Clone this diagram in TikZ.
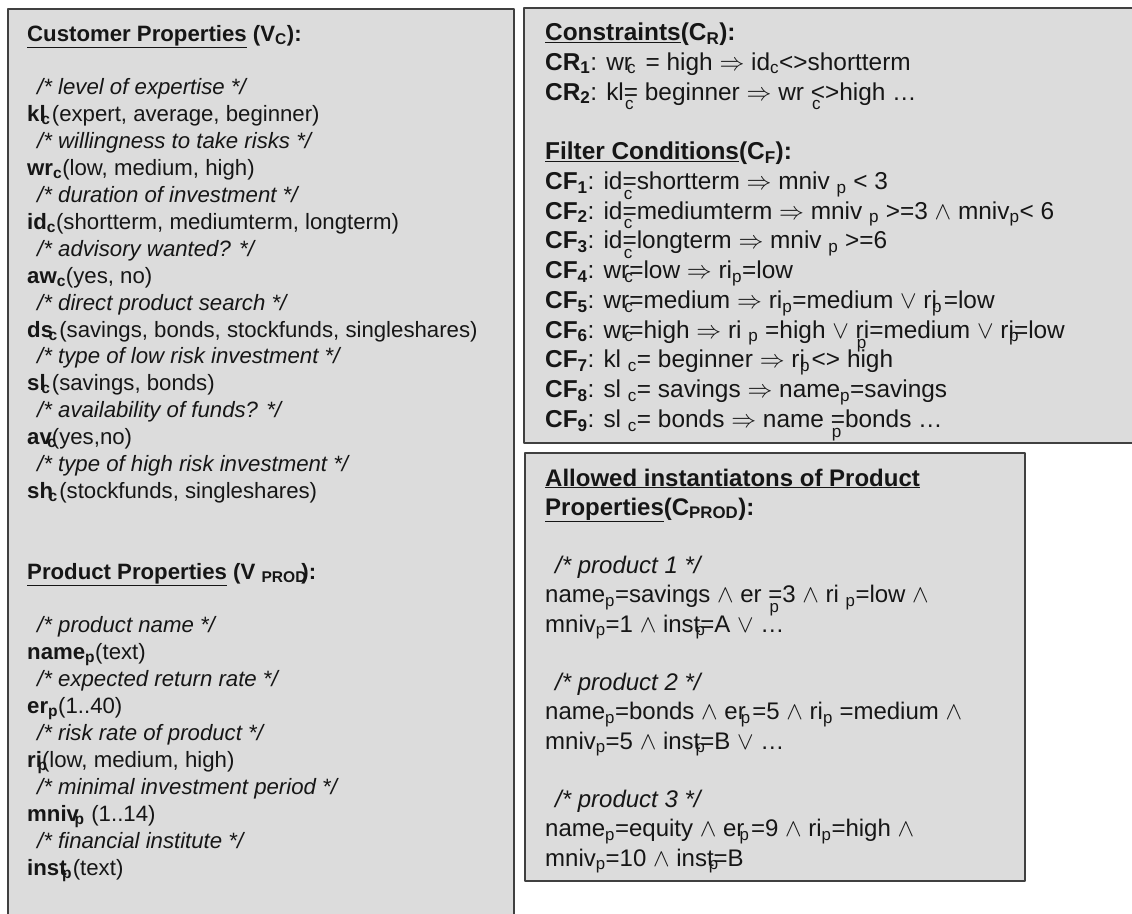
\documentclass[tikz,border=0pt]{standalone}
\usepackage{fontspec}
\setmainfont{Liberation Sans}
\usepackage{tikz}
\definecolor{panelfill}{RGB}{220,220,220}
\definecolor{panelline}{RGB}{64,64,64}
\definecolor{ink}{RGB}{22,22,22}
\tikzset{
  every picture/.style={line join=round, line cap=round},
  panel/.style={draw=panelline, fill=panelfill, line width=2pt},
  listing/.style={anchor=base west, align=left, inner sep=0pt, text=ink},
}
\newcommand{\cmt}[1]{\hspace*{10pt}\textit{/* #1 */}}
\newcommand{\subl}[1]{\makebox[0pt][l]{\kern-0.2em\textsubscript{#1}}}
\newcommand{\subo}[2]{\makebox[0pt][l]{\kern0.05em\raisebox{-0.25em}{\textsubscript{#1}}}#2}
\newcommand{\impl}{$\Rightarrow$}
\newcommand{\conj}{$\wedge$}
\newcommand{\disj}{$\vee$}
\newcommand{\listfont}[2]{\fontsize{#1}{#2}\selectfont\lineskiplimit=-100pt}

\begin{document}
\begin{tikzpicture}[x=1pt,y=-1pt]
\useasboundingbox (0,0) rectangle (1132,913);
\fill[white] (0,0) rectangle (1132,913);
\draw[panel] (8,9) rectangle (514,935);
\draw[panel] (524,8) rectangle (1150,443);
\draw[panel] (525,453) rectangle (1025,881);
\node[listing, font=\listfont{22.2}{26.9}] (custlist) at (27,875) {%
\textbf{\underline{Customer Properties} (V\textsubscript{C}):}\\
\mbox{}\\
\cmt{level of expertise}\\
\textbf{kl\subl{c}} (expert, average, beginner)\\
\cmt{willingness to take risks}\\
\textbf{wr\textsubscript{c}}(low, medium, high)\\
\cmt{duration of investment}\\
\textbf{id\textsubscript{c}}(shortterm, mediumterm, longterm)\\
\cmt{advisory wanted?}\\
\textbf{aw\textsubscript{c}}(yes, no)\\
\cmt{direct product search}\\
\textbf{ds\subl{c}} (savings, bonds, stockfunds, singleshares)\\
\cmt{type of low risk investment}\\
\textbf{sl\subl{c}} (savings, bonds)\\
\cmt{availability of funds?}\\
\textbf{av\subl{c}}(yes,no)\\
\cmt{type of high risk investment}\\
\textbf{sh\subl{c}} (stockfunds, singleshares)\\
\mbox{}\\
\mbox{}\\
\textbf{\underline{Product Properties} (V \textsubscript{PROD}\kern-0.25em):}\\
\mbox{}\\
\cmt{product name}\\
\textbf{name\textsubscript{p}}(text)\\
\cmt{expected return rate}\\
\textbf{er\textsubscript{p}}(1..40)\\
\cmt{risk rate of product}\\
\textbf{ri\subl{p}}(low, medium, high)\\
\cmt{minimal investment period}\\
\textbf{mniv\subl{p}}\ \ (1..14)\\
\cmt{financial institute}\\
\textbf{inst\subl{p}} (text)};
\node[listing, font=\listfont{24.4}{29.77}] (conslist) at (545,427.5) {%
\textbf{\underline{Constraints}(C\textsubscript{R}):}\\
\textbf{CR\textsubscript{1}}: wr\subl{c}\ \ = high \impl{} id\textsubscript{c}<>shortterm\\
\textbf{CR\textsubscript{2}}: kl\subo{c}{=} beginner \impl{} wr \subo{c}{<}>high …\\
\mbox{}\\
\textbf{\underline{Filter Conditions}(C\textsubscript{F}):}\\
\textbf{CF\textsubscript{1}}: id\subo{c}{=}shortterm \impl{} mniv \textsubscript{p} < 3\\
\textbf{CF\textsubscript{2}}: id\subo{c}{=}mediumterm \impl{} mniv \textsubscript{p} >=3 \conj{} mniv\textsubscript{p}< 6\\
\textbf{CF\textsubscript{3}}: id\subo{c}{=}longterm \impl{} mniv \textsubscript{p} >=6\\
\textbf{CF\textsubscript{4}}: wr\subl{c}=low \impl{} ri\textsubscript{p}=low\\
\textbf{CF\textsubscript{5}}: wr\subl{c}=medium \impl{} ri\textsubscript{p}=medium \disj{} ri\subl{p} =low\\
\textbf{CF\textsubscript{6}}: wr\subl{c}=high \impl{} ri \textsubscript{p} =high \disj{} \subo{p}{r}i=medium \disj{} ri\subl{p}=low\\
\textbf{CF\textsubscript{7}}: kl \textsubscript{c}= beginner \impl{} ri\subl{p} <> high\\
\textbf{CF\textsubscript{8}}: sl \textsubscript{c}= savings \impl{} name\textsubscript{p}=savings\\
\textbf{CF\textsubscript{9}}: sl \textsubscript{c}= bonds \impl{} name \subo{p}{=}bonds …};
\node[listing, font=\listfont{24}{29.23}] (prodlist) at (545,866) {%
\textbf{\underline{Allowed instantiatons of Product}}\\
\textbf{\underline{Properties}(C\textsubscript{PROD}):}\\
\mbox{}\\
\cmt{product 1}\\
name\textsubscript{p}=savings \conj{} er \subo{p}{=}3 \conj{} ri \textsubscript{p}=low \conj\\
mniv\textsubscript{p}=1 \conj{} inst\subl{p}=A \disj{} …\\
\mbox{}\\
\cmt{product 2}\\
name\textsubscript{p}=bonds \conj{} er\subl{p} =5 \conj{} ri\textsubscript{p} =medium \conj\\
mniv\textsubscript{p}=5 \conj{} inst\subl{p}=B \disj{} …\\
\mbox{}\\
\cmt{product 3}\\
name\textsubscript{p}=equity \conj{} er\subl{p} =9 \conj{} ri\textsubscript{p}=high \conj\\
mniv\textsubscript{p}=10 \conj{} inst\subl{p}=B};
\end{tikzpicture}
\end{document}
